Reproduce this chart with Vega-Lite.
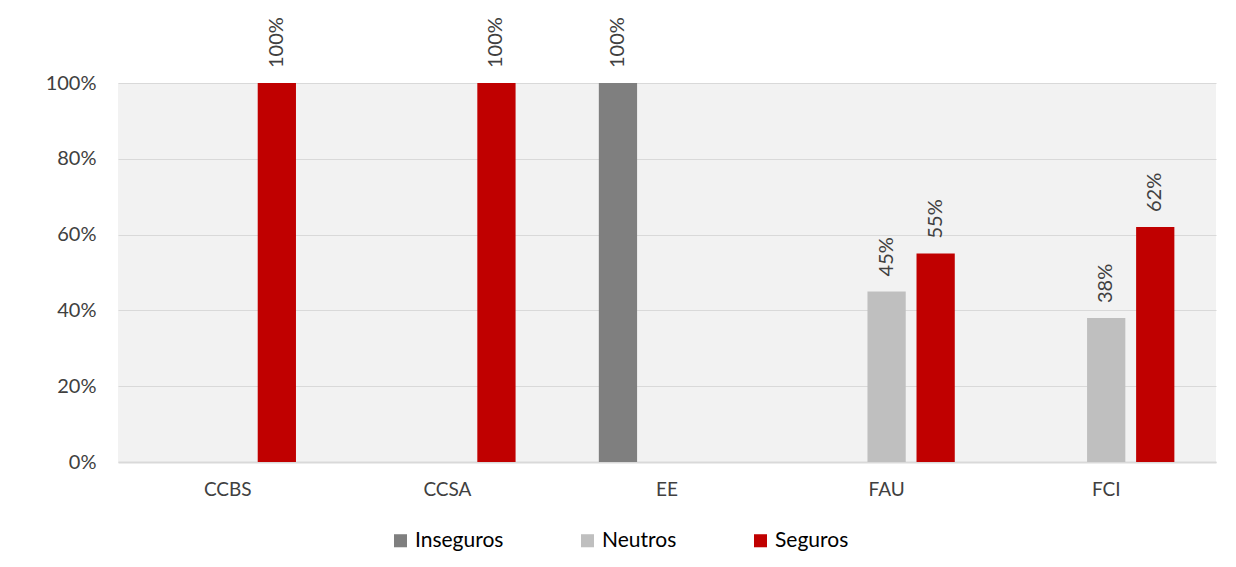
{
  "$schema": "https://vega.github.io/schema/vega-lite/v6.json",
  "autosize": "none",
  "width": 1098,
  "height": 379,
  "padding": {"left": 118, "top": 83, "right": 20, "bottom": 105},
  "background": "white",
  "config": {
    "font": "Lato",
    "view": {"fill": "#f2f2f2", "stroke": null}
  },
  "data": {
    "values": [
      {"unidad": "CCBS", "grupo": "Inseguros", "valor": 0},
      {"unidad": "CCBS", "grupo": "Neutros", "valor": 0},
      {"unidad": "CCBS", "grupo": "Seguros", "valor": 1.0},
      {"unidad": "CCSA", "grupo": "Inseguros", "valor": 0},
      {"unidad": "CCSA", "grupo": "Neutros", "valor": 0},
      {"unidad": "CCSA", "grupo": "Seguros", "valor": 1.0},
      {"unidad": "EE", "grupo": "Inseguros", "valor": 1.0},
      {"unidad": "EE", "grupo": "Neutros", "valor": 0},
      {"unidad": "EE", "grupo": "Seguros", "valor": 0},
      {"unidad": "FAU", "grupo": "Inseguros", "valor": 0},
      {"unidad": "FAU", "grupo": "Neutros", "valor": 0.45},
      {"unidad": "FAU", "grupo": "Seguros", "valor": 0.55},
      {"unidad": "FCI", "grupo": "Inseguros", "valor": 0},
      {"unidad": "FCI", "grupo": "Neutros", "valor": 0.38},
      {"unidad": "FCI", "grupo": "Seguros", "valor": 0.62}
    ]
  },
  "encoding": {
    "x": {
      "field": "unidad",
      "type": "nominal",
      "sort": ["CCBS", "CCSA", "EE", "FAU", "FCI"],
      "scale": {"paddingInner": 0.33, "paddingOuter": 0.165},
      "axis": {
        "title": null,
        "labelAngle": 0,
        "labelFontSize": 19,
        "labelColor": "#404040",
        "labelPadding": 18,
        "ticks": false,
        "domainColor": "#d9d9d9",
        "domainWidth": 2
      }
    },
    "xOffset": {
      "field": "grupo",
      "type": "nominal",
      "sort": ["Inseguros", "Neutros", "Seguros"],
      "scale": {"domain": ["Inseguros", "Neutros", "Seguros"], "paddingInner": 0.22, "paddingOuter": 0.11}
    },
    "y": {
      "field": "valor",
      "type": "quantitative",
      "scale": {"domain": [0, 1], "nice": false},
      "axis": {
        "title": null,
        "format": ".0%",
        "values": [0, 0.2, 0.4, 0.6, 0.8, 1],
        "labelFontSize": 20,
        "labelColor": "#404040",
        "labelPadding": 22,
        "ticks": false,
        "domain": false,
        "gridColor": "#d9d9d9",
        "gridWidth": 1
      }
    }
  },
  "layer": [
    {
      "mark": {"type": "bar"},
      "encoding": {
        "color": {
          "field": "grupo",
          "type": "nominal",
          "scale": {"domain": ["Inseguros", "Neutros", "Seguros"], "range": ["#7f7f7f", "#bfbfbf", "#c00000"]},
          "legend": {
            "title": null,
            "orient": "none",
            "direction": "horizontal",
            "legendX": 272,
            "legendY": 447,
            "symbolType": "square",
            "symbolSize": 170,
            "symbolStrokeWidth": 0,
            "labelFontSize": 21,
            "labelColor": "#000000",
            "columnPadding": 73,
            "labelOffset": 4
          }
        }
      }
    },
    {
      "transform": [{"filter": "datum.valor > 0"}],
      "mark": {"type": "text", "angle": 270, "align": "left", "baseline": "middle", "dx": 15, "fontSize": 20, "color": "#404040"},
      "encoding": {
        "text": {"field": "valor", "type": "quantitative", "format": ".0%"}
      }
    }
  ]
}
